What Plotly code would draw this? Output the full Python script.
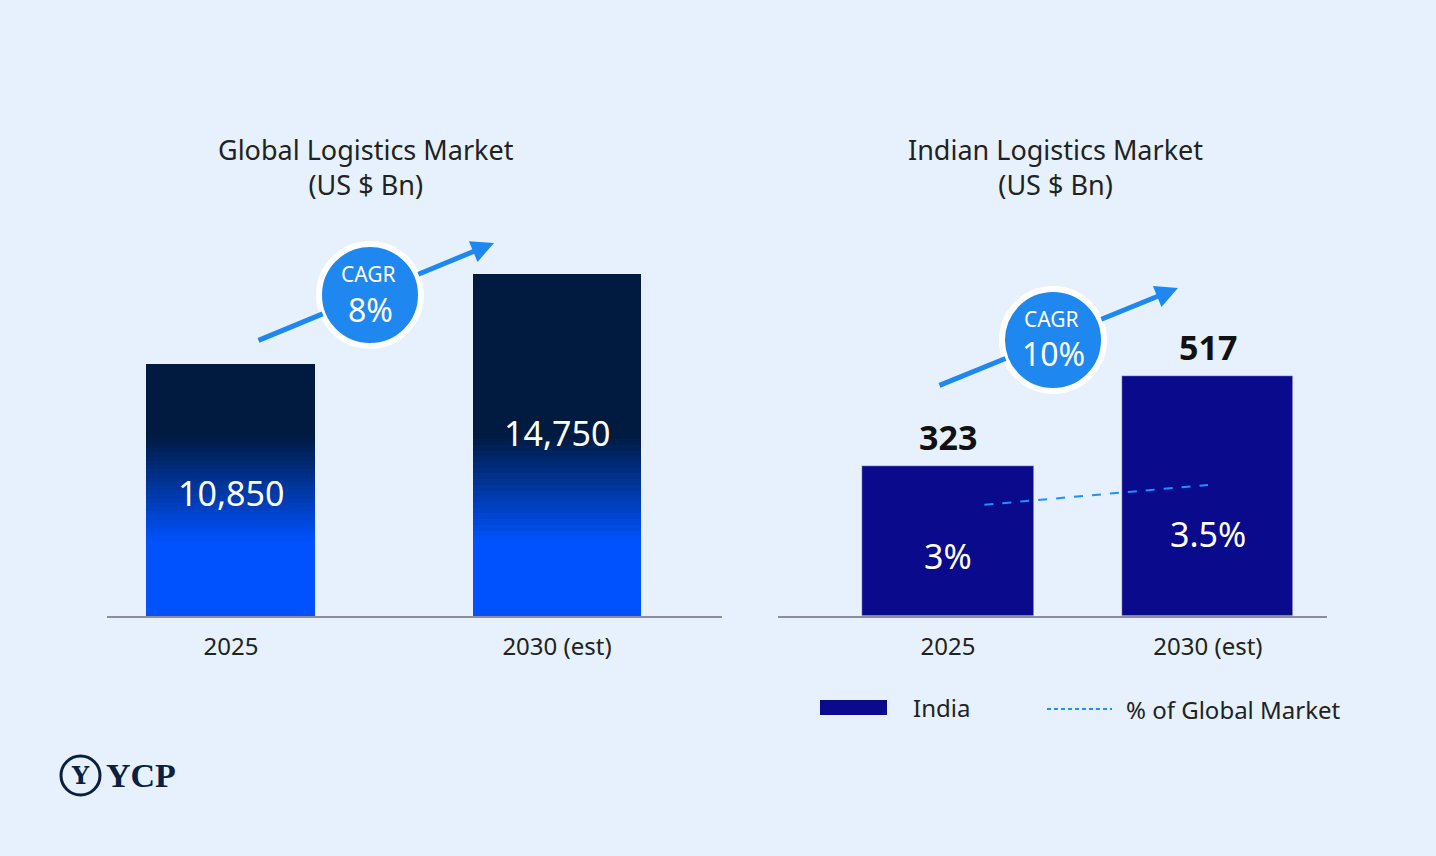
import plotly.graph_objects as go

W, H = 1436, 856

# data
years = ["2025", "2030 (est)"]
global_market = [10850, 14750]
global_labels = ["10,850", "14,750"]
india_market = [323, 517]
india_share = ["3%", "3.5%"]
share_line_y = [240, 283]
cagr_global = "8%"
cagr_india = "10%"

DARK = "#001A40"
BRIGHT = "#0052FF"
NAVY = "#0A0A8C"
ARROW = "#1E88F0"
FONT = "Noto Sans"


def px(x):
    return x / W


def py(y):
    return 1 - y / H


def mix(c1, c2, t):
    a = [int(c1[i:i + 2], 16) for i in (1, 3, 5)]
    b = [int(c2[i:i + 2], 16) for i in (1, 3, 5)]
    return "#" + "".join(f"{round(a[k] + (b[k] - a[k]) * t):02x}" for k in range(3))


fig = go.Figure()

# gradient bars for global market, built as stacked slices
n = 60
for i, v in enumerate(global_market):
    step = v / n
    for k in range(n):
        mid = (k + 0.5) * step
        t = min(max((mid - 3200) / 4600, 0), 1)
        fig.add_trace(go.Bar(x=[i], y=[step], base=[k * step], width=0.518,
                             marker=dict(color=mix(BRIGHT, DARK, t), line=dict(width=0)),
                             showlegend=False, hoverinfo="skip", xaxis="x", yaxis="y"))

fig.add_trace(go.Bar(x=[0, 1], y=india_market, width=0.658, marker_color=NAVY,
                     showlegend=False, xaxis="x2", yaxis="y2"))
fig.add_trace(go.Scatter(x=[0.14, 1.0], y=share_line_y, mode="lines",
                         line=dict(color="#1E90FF", width=2, dash="dash"),
                         showlegend=False, xaxis="x2", yaxis="y2"))

tick_font = dict(family=FONT, size=24, color="#222222")
fig.update_layout(
    width=W, height=H, margin=dict(l=0, r=0, t=0, b=0),
    paper_bgcolor="#E6F1FD", plot_bgcolor="rgba(0,0,0,0)",
    barmode="overlay", bargap=0,
    font=dict(family=FONT, color="#222222"),
    xaxis=dict(domain=[px(107), px(722)], range=[-0.380, 1.506], tickvals=[0, 1],
               ticktext=years, tickfont=tick_font, showgrid=False, zeroline=False,
               showline=True, linecolor="#8A8F99", linewidth=1.5, ticks="",
               ticklabelstandoff=8),
    yaxis=dict(domain=[py(616), py(245)], range=[0, 16000], visible=False),
    xaxis2=dict(domain=[px(778), px(1327)], range=[-0.654, 1.458], tickvals=[0, 1],
                ticktext=years, tickfont=tick_font, showgrid=False, zeroline=False,
                showline=True, linecolor="#8A8F99", linewidth=1.5, ticks="", anchor="y2",
                ticklabelstandoff=8),
    yaxis2=dict(domain=[py(616), py(338)], range=[0, 600], visible=False, anchor="x2"),
)

ann = []


def text(x, y, s, size, color="#222222", xanchor="center", family=FONT, **kw):
    ann.append(dict(x=px(x), y=py(y), xref="paper", yref="paper", text=s, showarrow=False,
                    xanchor=xanchor, yanchor="middle",
                    font=dict(size=size, color=color, family=family), **kw))


text(366, 167, "Global Logistics Market<br>(US $ Bn)", 27)
text(1055, 167, "Indian Logistics Market<br>(US $ Bn)", 27)

label_pos = [0.49, 0.535]
for i, v in enumerate(global_market):
    ann.append(dict(x=i, y=v * label_pos[i], xref="x", yref="y",
                    text=global_labels[i], showarrow=False,
                    font=dict(size=34, color="white", family=FONT)))
for i, v in enumerate(india_market):
    ann.append(dict(x=i, y=v, xref="x2", yref="y2", text=f"<b>{v}</b>", showarrow=False,
                    yanchor="bottom", yshift=4, font=dict(size=34, color="#111111", family=FONT)))
    ann.append(dict(x=i, y=[130, 176][i], xref="x2", yref="y2", text=india_share[i],
                    showarrow=False, font=dict(size=34, color="white", family=FONT)))

shapes = []


def arrow(x0, y0, x1, y1, head):
    ann.append(dict(x=px(x1), y=py(y1), xref="paper", yref="paper",
                    ax=x0 - x1, ay=y0 - y1, axref="pixel", ayref="pixel", text="",
                    showarrow=True, arrowhead=2 if head else 0, arrowsize=0.9,
                    arrowwidth=5, arrowcolor=ARROW))


def bubble(cx, cy, r, val, x0, y0, x1, y1):
    # arrow split around the bubble
    dx, dy = x1 - x0, y1 - y0
    L = (dx * dx + dy * dy) ** 0.5
    ux, uy = dx / L, dy / L
    t = (cx - x0) * ux + (cy - y0) * uy
    arrow(x0, y0, x0 + ux * (t - r), y0 + uy * (t - r), False)
    arrow(x0 + ux * (t + r), y0 + uy * (t + r), x1, y1, True)
    shapes.append(dict(type="circle", xref="paper", yref="paper",
                       x0=px(cx - r), x1=px(cx + r), y0=py(cy + r), y1=py(cy - r),
                       fillcolor=ARROW, line=dict(color="white", width=6)))
    text(cx - 2, cy - 21, "CAGR", 21, "white")
    text(cx, cy + 14, val, 32, "white")


bubble(370, 295, 51, cagr_global, 257, 341, 494, 243)
bubble(1053, 340, 51, cagr_india, 938, 386, 1178, 288)

# legend
shapes.append(dict(type="rect", xref="paper", yref="paper", x0=px(820), x1=px(887),
                   y0=py(715), y1=py(700), fillcolor=NAVY, line=dict(width=0)))
text(911, 707, "India", 24, xanchor="left")
shapes.append(dict(type="line", xref="paper", yref="paper", x0=px(1047), x1=px(1112),
                   y0=py(709), y1=py(709), line=dict(color="#1E90FF", width=2, dash="4px,3px")))
text(1124, 709, "% of Global Market", 24, xanchor="left")

# logo
shapes.append(dict(type="circle", xref="paper", yref="paper", x0=px(61), x1=px(100),
                   y0=py(795), y1=py(756), line=dict(color="#0B1F3F", width=3)))
text(80, 775, "<b>Y</b>", 24, "#0B1F3F", family="DejaVu Serif")
text(104, 775, "<b>YCP</b>", 34, "#0B1F3F", xanchor="left", family="Liberation Serif")

fig.update_layout(annotations=ann, shapes=shapes)
fig.write_html("out.html", config={"displayModeBar": False},
               post_script="document.body.style.margin='0';")
